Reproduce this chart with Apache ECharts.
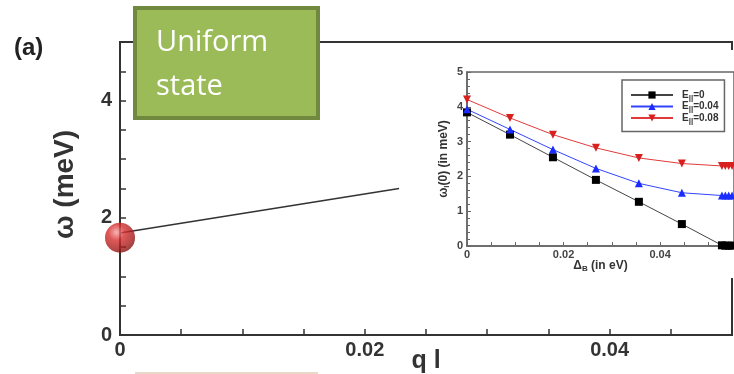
<!DOCTYPE html>
<html><head><meta charset="utf-8">
<script src="https://cdn.jsdelivr.net/npm/echarts@6/dist/echarts.min.js"></script>
<style>
html,body{margin:0;padding:0;background:#fff;}
#main{position:absolute;left:0;top:0;width:734px;height:374px;}
#inset{position:absolute;left:400px;top:50px;width:334px;height:228px;background:#fff;}
</style></head><body>
<div id="main"></div>
<div id="inset"></div>
<script>
// ---- main panel data ----
const mainLineQ = [0, 0.0228];
const mainLineW = [1.74, 2.50];
const ballPoint = [0, 1.66];
const mainXTicks = [0, 0.02, 0.04];
const mainYTicks = [0, 2, 4];

// ---- inset data ----
const insetX = [0, 0.0089, 0.0178, 0.0267, 0.0356, 0.0445, 0.0528, 0.0535, 0.0542, 0.0549];
const seriesE0 = [3.84, 3.20, 2.55, 1.90, 1.27, 0.63, 0.02, 0.01, 0.01, 0.01];
const seriesE004 = [3.93, 3.35, 2.77, 2.23, 1.80, 1.53, 1.45, 1.45, 1.45, 1.45];
const seriesE008 = [4.21, 3.68, 3.20, 2.82, 2.53, 2.37, 2.30, 2.30, 2.30, 2.30];
const insetNames = ['E||=0', 'E||=0.04', 'E||=0.08'];
const insetXTicks = [0, 0.02, 0.04];

function pairs(xs, ys){ return xs.map((x,i)=>[x, ys[i]]); }
function inList(v, list){ return list.some(t => Math.abs(v - t) < 1e-9); }
function fmt(v){ return v === 0 ? '0' : String(+v.toFixed(4)); }

const FONT = 'Liberation Sans, Arial, sans-serif';

const main = echarts.init(document.getElementById('main'), null, {renderer:'canvas'});
main.setOption({
  animation:false,
  grid:{left:120, top:42, right:2, bottom:39, show:true, borderColor:'#333', borderWidth:2,
        containLabel:false, outerBoundsMode:'none'},
  xAxis:{
    type:'value', min:0, max:0.05, interval:0.01,
    name:'q l', nameLocation:'middle', nameGap:14, nameMoveOverlap:false,
    nameTextStyle:{fontFamily:FONT, fontWeight:'bold', fontSize:25, color:'#333'},
    axisLine:{show:true, lineStyle:{color:'#333', width:2}},
    axisTick:{show:true, inside:true, length:6, lineStyle:{color:'#333', width:1.5}},
    minorTick:{show:true, splitNumber:2, length:6, lineStyle:{color:'#333', width:1.5}},
    splitLine:{show:false},
    axisLabel:{margin:5, fontFamily:FONT, fontWeight:'bold', fontSize:20, color:'#333',
      formatter:v => inList(v, mainXTicks) ? fmt(v) : ''}
  },
  yAxis:{
    type:'value', min:0, max:5, interval:1,
    name:'ω (meV)', nameLocation:'middle', nameGap:41, nameRotate:90, nameMoveOverlap:false,
    nameTextStyle:{fontFamily:FONT, fontWeight:'bold', fontSize:28, color:'#333', padding:[0,0,0,8]},
    axisLine:{show:true, lineStyle:{color:'#333', width:2}},
    axisTick:{show:true, inside:true, length:6, lineStyle:{color:'#333', width:1.5}},
    minorTick:{show:true, splitNumber:2, length:6, lineStyle:{color:'#333', width:1.5}},
    splitLine:{show:false},
    axisLabel:{margin:8, fontFamily:FONT, fontWeight:'bold', fontSize:20, color:'#333',
      formatter:v => inList(v, mainYTicks) ? fmt(v) : ''}
  },
  series:[
    {type:'line', data:pairs(mainLineQ, mainLineW), showSymbol:false, symbol:'none',
     lineStyle:{color:'#333', width:1.6}, clip:false, z:3},
    {type:'scatter', data:[ballPoint], symbolSize:30, clip:false, z:5,
     itemStyle:{color:{type:'radial', x:0.38, y:0.32, r:0.75,
       colorStops:[{offset:0,color:'#f4a0a0'},{offset:0.35,color:'#d83030'},{offset:0.8,color:'#a01818'},{offset:1,color:'#701010'}]}}}
  ],
  graphic:[
    {type:'text', left:14, top:36, z:50, style:{text:'(a)', font:'bold 24px '+FONT, fill:'#222'}},
    {type:'rect', shape:{x:135, y:8, width:183, height:110}, z:50,
     style:{fill:'#9BBB59', stroke:'#71893F', lineWidth:4}},
    {type:'text', x:156, y:43, z:51, style:{text:'Uniform', font:'29px "Open Sans", sans-serif', fill:'#fff', verticalAlign:'middle'}},
    {type:'text', x:156, y:87, z:51, style:{text:'state', font:'29px "Open Sans", sans-serif', fill:'#fff', verticalAlign:'middle'}},
    {type:'line', shape:{x1:135, y1:373, x2:318, y2:373}, z:50, style:{stroke:'#ead9c8', lineWidth:2}}
  ]
});

const inset = echarts.init(document.getElementById('inset'), null, {renderer:'canvas'});
const subRich = {
  n:{fontFamily:FONT, fontWeight:'bold', fontSize:10, color:'#333', lineHeight:12},
  s:{fontFamily:FONT, fontWeight:'bold', fontSize:8, color:'#333', padding:[5,0,0,0]}
};
inset.setOption({
  animation:false,
  grid:{left:67, top:22, right:0, bottom:32, show:true, borderColor:'#666', borderWidth:1.5,
        containLabel:false, outerBoundsMode:'none'},
  legend:{
    data:insetNames, orient:'vertical', left:222, top:30,
    width:97, padding:[10,6,7,8], itemGap:0, itemWidth:42, itemHeight:9,
    borderColor:'#666', borderWidth:1.5, backgroundColor:'#fff',
    formatter:n => '{n|E}{s|||}{n|' + n.slice(3) + '}',
    textStyle:{rich:subRich, padding:[0,0,0,4]}
  },
  xAxis:{
    type:'value', min:0, max:0.0553, interval:0.005,
    name:'Δ{s|B} (in eV)', nameLocation:'middle', nameGap:13, nameMoveOverlap:false,
    nameTextStyle:{fontFamily:FONT, fontWeight:'bold', fontSize:12, color:'#333',
      rich:{s:{fontFamily:FONT, fontWeight:'bold', fontSize:8, color:'#333', padding:[6,0,0,0]}}},
    axisLine:{show:true, lineStyle:{color:'#666', width:1.5}},
    axisTick:{show:true, inside:true, length:4, lineStyle:{color:'#666'}},
    splitLine:{show:false},
    axisLabel:{margin:3, fontFamily:FONT, fontWeight:'bold', fontSize:11, color:'#444',
      formatter:v => inList(v, insetXTicks) ? fmt(v) : ''}
  },
  yAxis:{
    type:'value', min:0, max:5, interval:1,
    name:'ω{s|l}(0) (in meV)', nameLocation:'middle', nameGap:16, nameRotate:90, nameMoveOverlap:false,
    nameTextStyle:{fontFamily:FONT, fontWeight:'bold', fontSize:12, color:'#333',
      rich:{s:{fontFamily:FONT, fontWeight:'bold', fontSize:8, color:'#333', padding:[6,0,0,0]}}},
    axisLine:{show:true, lineStyle:{color:'#666', width:1.5}},
    axisTick:{show:true, inside:true, length:4, lineStyle:{color:'#666'}},
    minorTick:{show:true, splitNumber:5, length:3, lineStyle:{color:'#666'}},
    splitLine:{show:false},
    axisLabel:{margin:4, fontFamily:FONT, fontWeight:'bold', fontSize:11, color:'#444'}
  },
  series:[
    {name:insetNames[0], type:'line', data:pairs(insetX, seriesE0), symbol:'rect', symbolSize:8,
     lineStyle:{color:'#444', width:1}, itemStyle:{color:'#000'}, clip:true},
    {name:insetNames[1], type:'line', data:pairs(insetX, seriesE004), symbol:'triangle', symbolSize:8,
     lineStyle:{color:'#3344ff', width:1}, itemStyle:{color:'#1a2cff'}, clip:true},
    {name:insetNames[2], type:'line', data:pairs(insetX, seriesE008), symbol:'triangle', symbolRotate:180, symbolSize:8,
     lineStyle:{color:'#e03a3a', width:1}, itemStyle:{color:'#d8201e'}, clip:true}
  ]
});
</script>
</body></html>
